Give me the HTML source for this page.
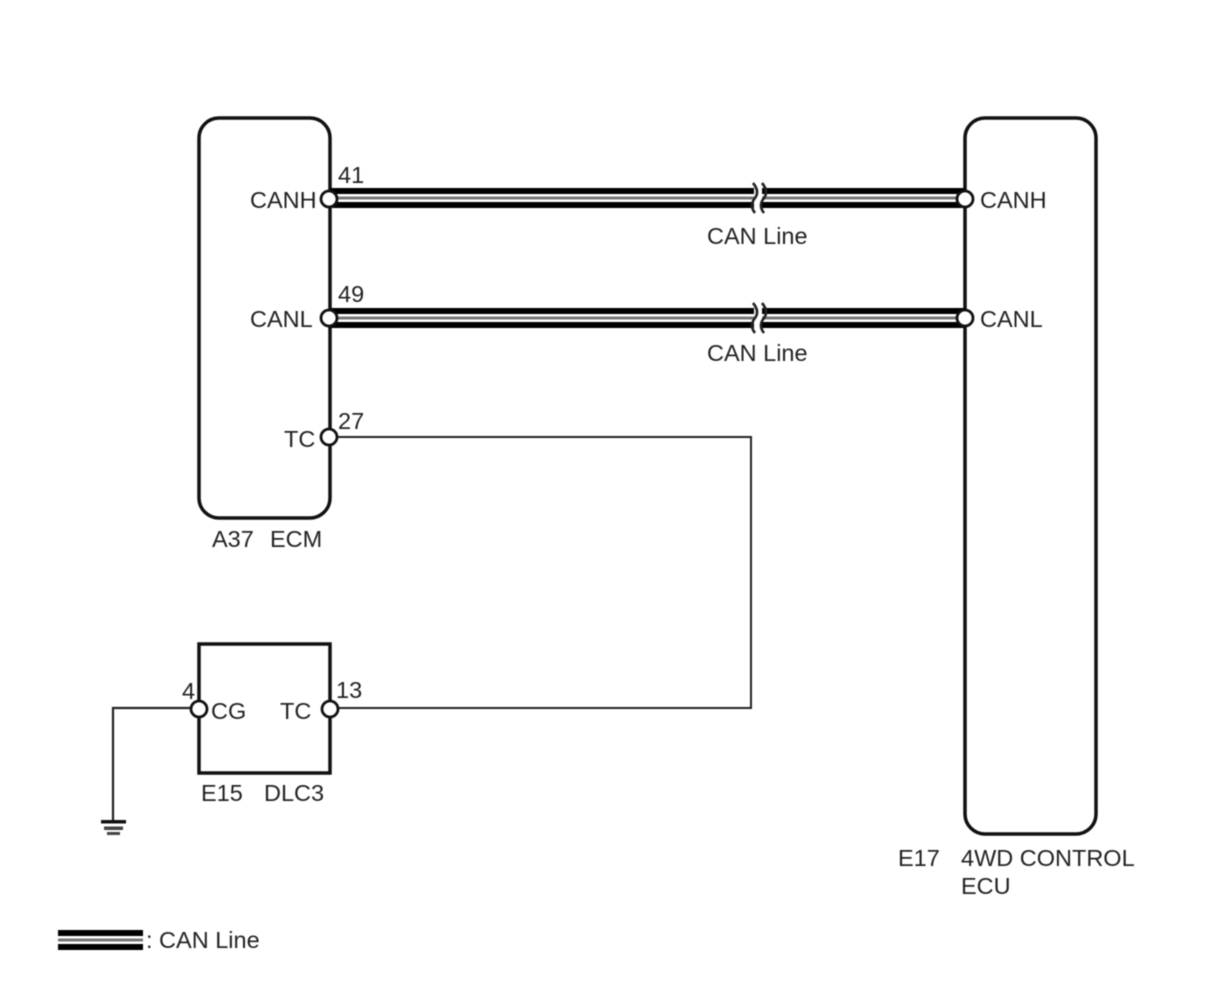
<!DOCTYPE html>
<html><head><meta charset="utf-8"><style>
html,body{margin:0;padding:0;background:#fff}
svg{display:block;filter:blur(0.45px)}
text{font-family:"Liberation Sans",sans-serif;font-size:23.5px;fill:#222}
</style></head><body>
<svg width="1210" height="986" viewBox="0 0 1210 986" xmlns="http://www.w3.org/2000/svg">
<!-- boxes -->
<rect x="199" y="118" width="131" height="400" rx="20" fill="none" stroke="#111" stroke-width="3.5"/>
<rect x="965" y="118" width="131" height="716" rx="20" fill="none" stroke="#111" stroke-width="3.5"/>
<rect x="199" y="644" width="131" height="129" fill="none" stroke="#111" stroke-width="3.5"/>
<!-- CAN lines -->
<g fill="#000">
<rect x="330" y="188" width="424" height="6"/><rect x="330" y="202" width="424" height="6"/>
<rect x="762" y="188" width="203" height="6"/><rect x="762" y="202" width="203" height="6"/>
<rect x="330" y="308" width="424" height="6"/><rect x="330" y="322" width="424" height="6"/>
<rect x="762" y="308" width="203" height="6"/><rect x="762" y="322" width="203" height="6"/>
</g>
<g fill="#777">
<rect x="330" y="196.500" width="424" height="3"/><rect x="762" y="196.500" width="203" height="3"/>
<rect x="330" y="316.500" width="424" height="3"/><rect x="762" y="316.500" width="203" height="3"/>
</g>
<!-- break marks -->
<g fill="#fff" stroke="none">
<rect x="755" y="184" width="7" height="28"/><rect x="755" y="304" width="7" height="28"/>
</g>
<g fill="none" stroke="#222" stroke-width="2.6">
<path d="M753 183 C758 189,758 194,755 198 C751 203,751 208,755 213"/>
<path d="M762 183 C767 189,767 194,764 198 C760 203,760 208,764 213"/>
<path d="M753 303 C758 309,758 314,755 318 C751 323,751 328,755 333"/>
<path d="M762 303 C767 309,767 314,764 318 C760 323,760 328,764 333"/>
</g>
<!-- thin wires -->
<path d="M330 437 H751 V708 H330" fill="none" stroke="#222" stroke-width="2"/>
<path d="M199 708 H113 V822" fill="none" stroke="#222" stroke-width="2.200"/>
<!-- ground -->
<rect x="101" y="820" width="25" height="3.500" fill="#111"/>
<rect x="104" y="826.500" width="19" height="3.500" fill="#444"/>
<rect x="107" y="832" width="13" height="3" fill="#444"/>
<!-- terminals -->
<g fill="#fff" stroke="#111" stroke-width="2.8">
<circle cx="329" cy="199" r="8"/><circle cx="329" cy="318" r="8"/><circle cx="329" cy="437" r="8"/>
<circle cx="965" cy="199" r="8"/><circle cx="965" cy="318" r="8"/>
<circle cx="199" cy="709" r="8"/><circle cx="330" cy="709" r="8"/>
</g>
<!-- labels -->
<text x="250" y="208">CANH</text>
<text x="250" y="327">CANL</text>
<text x="284" y="447">TC</text>
<text x="338" y="183">41</text>
<text x="338" y="302">49</text>
<text x="338" y="429">27</text>
<text x="980" y="208">CANH</text>
<text x="980" y="327">CANL</text>
<text x="707" y="244">CAN Line</text>
<text x="707" y="361">CAN Line</text>
<text x="212" y="547">A37</text>
<text x="270" y="547">ECM</text>
<text x="182" y="699">4</text>
<text x="211" y="719">CG</text>
<text x="280" y="719">TC</text>
<text x="336" y="698">13</text>
<text x="201" y="801">E15</text>
<text x="264" y="801">DLC3</text>
<text x="898" y="866">E17</text>
<text x="961" y="866">4WD CONTROL</text>
<text x="961" y="894">ECU</text>
<!-- legend -->
<rect x="58" y="930" width="85" height="6" fill="#000"/>
<rect x="58" y="938.500" width="85" height="3" fill="#777"/>
<rect x="58" y="944" width="85" height="6" fill="#000"/>
<text x="146" y="948">: CAN Line</text>
</svg>
</body></html>
